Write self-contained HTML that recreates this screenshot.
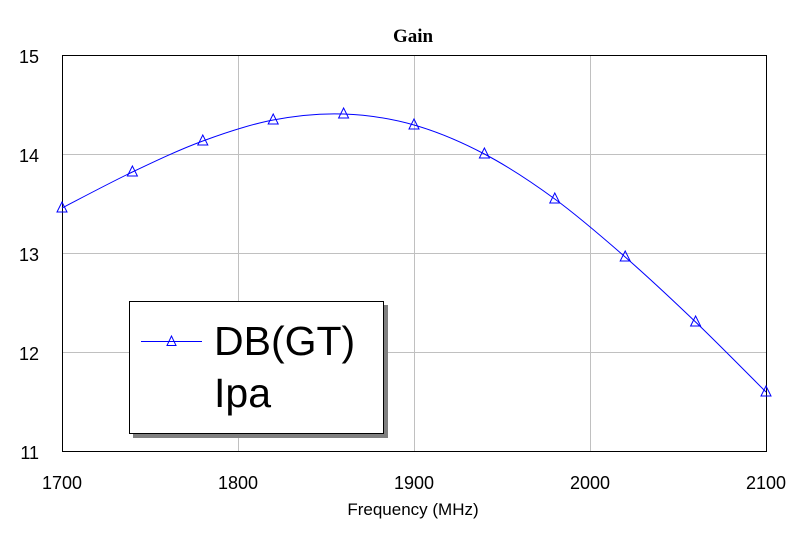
<!DOCTYPE html>
<html><head><style>body{margin:0;background:#fff}</style></head><body>
<svg id="s" width="810" height="539" xmlns="http://www.w3.org/2000/svg" font-family="Liberation Sans, sans-serif">
<rect width="810" height="539" fill="#fff"/>
<g stroke="#c0c0c0" stroke-width="1">
<line x1="238.5" y1="56" x2="238.5" y2="451"/><line x1="414.5" y1="56" x2="414.5" y2="451"/><line x1="590.5" y1="56" x2="590.5" y2="451"/>
<line x1="62" y1="154.5" x2="766" y2="154.5"/><line x1="62" y1="253.5" x2="766" y2="253.5"/><line x1="62" y1="352.5" x2="766" y2="352.5"/>
</g>
<rect x="62.5" y="55.5" width="704" height="396" fill="none" stroke="#000" stroke-width="1"/>
<text x="413" y="42" font-family="Liberation Serif, serif" font-weight="bold" font-size="19" text-anchor="middle">Gain</text>
<g font-size="18" text-anchor="end">
<text x="39" y="63">15</text><text x="39" y="162">14</text><text x="39" y="261">13</text><text x="39" y="360">12</text><text x="39" y="459">11</text>
</g>
<g font-size="18" text-anchor="middle">
<text x="62" y="489">1700</text><text x="238" y="489">1800</text><text x="414" y="489">1900</text><text x="590" y="489">2000</text><text x="766" y="489">2100</text>
</g>
<text x="413" y="515" font-size="17" text-anchor="middle">Frequency (MHz)</text>
<path id="c" fill="none" stroke="#0000ff" stroke-width="1"/>
<g id="m" fill="none" stroke="#0000ff" stroke-width="1"></g>
<rect x="133" y="305" width="255" height="133" fill="#808080"/>
<rect x="129.5" y="301.5" width="254" height="132" fill="#fff" stroke="#000"/>
<rect x="141" y="341" width="61" height="1" fill="#0000ff"/>
<path d="M171.5 336 L167 345.5 L176 345.5 Z" fill="none" stroke="#0000ff"/>
<text x="214" y="355" font-size="41">DB(GT)</text>
<text x="214" y="407" font-size="41">Ipa</text>
</svg>
<script>
var ys=[208,172,141,120,114,125,154,199,257,322,392];
var p=ys.map(function(y,i){return [62+i*70.4,y]});
var d="M"+p[0][0]+" "+p[0][1];
for(var i=0;i<p.length-1;i++){
var p0=p[i-1]||p[i],p1=p[i],p2=p[i+1],p3=p[i+2]||p[i+1];
d+=" C"+(p1[0]+(p2[0]-p0[0])/6)+" "+(p1[1]+(p2[1]-p0[1])/6)+" "+(p2[0]-(p3[0]-p1[0])/6)+" "+(p2[1]-(p3[1]-p1[1])/6)+" "+p2[0]+" "+p2[1];}
document.getElementById("c").setAttribute("d",d);
var g=document.getElementById("m"),h="";
p.forEach(function(q){h+='<path d="M'+q[0]+' '+(q[1]-6)+' L'+(q[0]-5)+' '+(q[1]+4)+' L'+(q[0]+5)+' '+(q[1]+4)+' Z"/>';});
g.innerHTML=h;
</script>
</body></html>
